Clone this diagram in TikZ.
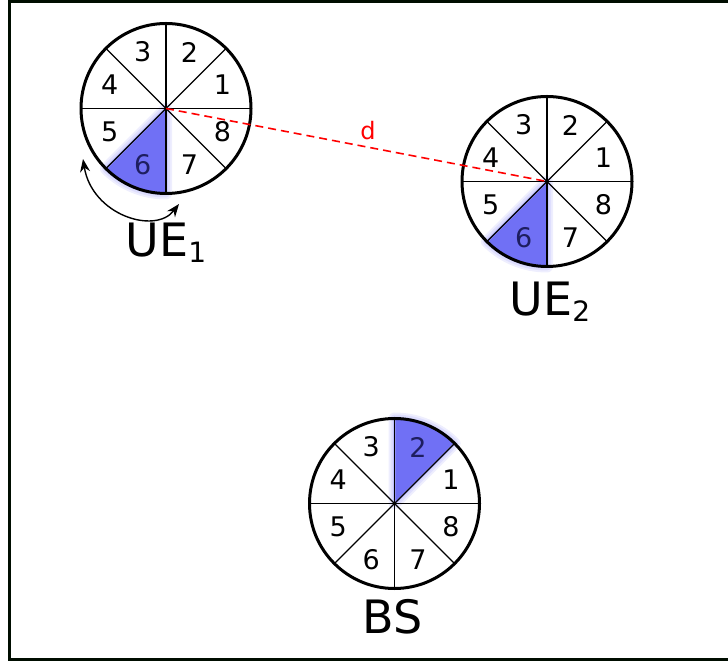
\documentclass[tikz,border=0pt]{standalone}
\usepackage{fontspec}
\setmainfont{DejaVu Sans}
\usetikzlibrary{arrows.meta,positioning,backgrounds}

\definecolor{beamblue}{RGB}{112,112,245}
\definecolor{darkbeam}{RGB}{30,30,95}

\begin{document}
\begin{tikzpicture}[
  x=1pt, y=1pt,
  every node/.style={font=\fontsize{27}{32}\selectfont},
  antenna/.style={
    draw,
    circle,
    line width=3pt,
    minimum size=170pt,
    inner sep=0pt,
    outer sep=0pt
  },
  spoke/.style={line width=1.3pt},
  beam/.style={fill=beamblue, draw=beamblue!70, line width=2pt, line join=round},
  glow/.style={draw=beamblue, line width=#1, opacity=0.12, line join=round},
  tag/.style={font=\fontsize{46}{52}\selectfont, inner sep=3pt},
  link/.style={red, dashed, dash pattern=on 8pt off 5pt, line width=1.6pt},
  arrow/.style={{Stealth[length=13pt,width=10pt]}-{Stealth[length=13pt,width=10pt]}, line width=1.4pt}
]
\useasboundingbox (0,0) rectangle (728,664);
\draw[line width=3.5pt, black!95!green] (9.5,663) rectangle (745,4.7);

% sectorised antennas
\node[antenna] (ue1) at (166,555.5) {};
\node[antenna] (ue2) at (547,482.5) {};
\node[antenna] (bs) at (394.5,160.5) {};

\foreach \s/\hot in {ue1/6,ue2/6,bs/2} {
  \begin{scope}[on background layer]
    \foreach \w in {12pt,8pt,4pt}
      \path[glow=\w] (\s.center) -- ++({45*(\hot-1)}:85) arc[start angle={45*(\hot-1)}, end angle={45*\hot}, radius=85] -- cycle;
    \path[beam] (\s.center) -- ++({45*(\hot-1)}:85) arc[start angle={45*(\hot-1)}, end angle={45*\hot}, radius=85] -- cycle;
  \end{scope}
  \foreach \a in {0,45,...,315}
    \draw[spoke] (\s.center) -- (\s.\a);
  \foreach \n in {1,...,8} {
    \ifnum\n=\hot \def\numcol{darkbeam}\else\def\numcol{black}\fi
    \path (\s.center) ++({45*\n-22.5}:61) node[text=\numcol] {\n};
  }
}

\node[tag, below=26pt of ue1] (ue1tag) {UE\raisebox{-6pt}{\fontsize{28}{32}\selectfont 1}};
\node[tag, below=12pt of ue2, xshift=3pt] (ue2tag) {UE\raisebox{-6pt}{\fontsize{28}{32}\selectfont 2}};
\node[tag, below=8pt of bs, xshift=-2pt] (bstag) {BS};

% beam sweep of UE1
\coordinate (sweepL) at (83,505);
\coordinate (sweepR) at (179,460);
\draw[arrow] (sweepL) .. controls (92,449) and (155,429) .. (sweepR);

% distance between the users
\draw[link] (ue1.center) -- node[pos=0.53, above=3pt, text=red, font=\fontsize{24}{28}\selectfont] {d} (ue2.center);
\end{tikzpicture}
\end{document}
